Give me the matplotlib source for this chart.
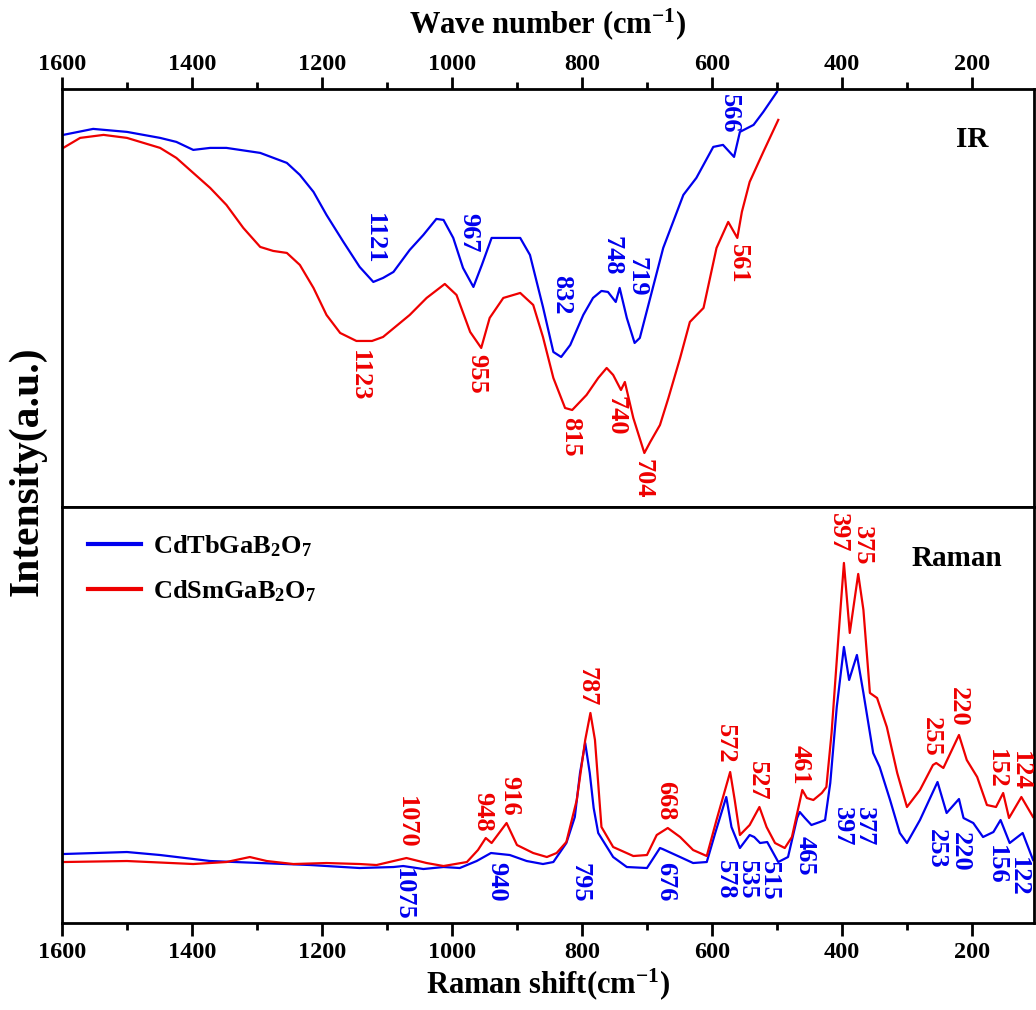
import numpy as np
import matplotlib
matplotlib.use("Agg")
import matplotlib.pyplot as plt

plt.rcParams['font.family'] = ['Liberation Serif', 'DejaVu Serif']
plt.rcParams['font.weight'] = 'bold'
plt.rcParams['mathtext.fontset'] = 'custom'
plt.rcParams['mathtext.rm'] = 'Liberation Serif:bold'
plt.rcParams['mathtext.bf'] = 'Liberation Serif:bold'
plt.rcParams['mathtext.default'] = 'bf'

# IR spectra (wave number, transmittance a.u.)
ir_tb_x = [1598, 1552, 1500, 1449, 1424, 1398, 1372, 1347, 1295, 1254, 1234, 1213, 1193, 1167,
           1142, 1121, 1106, 1090, 1065, 1044, 1024, 1013, 998, 983, 967, 954, 939, 921, 895,
           880, 860, 844, 832, 818, 798, 783, 770, 760, 748, 742, 731, 719, 711, 695, 675, 644,
           624, 598, 583, 566, 557, 536, 521, 500]
ir_tb_y = [372, 378, 375, 369, 365, 357, 359, 359, 354, 344, 332, 315, 292, 265,
           240, 225, 229, 235, 257, 272, 288, 287, 269, 239, 220, 242, 269, 269, 269,
           252, 200, 155, 150, 162, 192, 209, 216, 215, 205, 219, 189, 164, 169, 209, 259, 312,
           329, 360, 362, 350, 375, 382, 395, 415]

ir_sm_x = [1598, 1572, 1536, 1500, 1449, 1424, 1398, 1372, 1347, 1321, 1295, 1275, 1254, 1234,
           1213, 1193, 1172, 1147, 1123, 1106, 1065, 1039, 1011, 993, 972, 955, 942, 921, 895,
           875, 860, 844, 826, 815, 793, 775, 762, 752, 740, 734, 721, 704, 695, 680, 667, 649,
           634, 613, 593, 575, 561, 554, 542, 521, 498]
ir_sm_y = [359, 369, 372, 369, 359, 349, 334, 319, 302, 279, 260, 256, 254, 242,
           219, 192, 174, 166, 166, 170, 192, 209, 223, 212, 175, 159, 189, 209, 214,
           202, 170, 129, 99, 97, 112, 129, 139, 132, 117, 125, 89, 54, 65, 82, 109, 149,
           185, 199, 259, 285, 269, 295, 325, 355, 387]

# Raman spectra (shift, intensity a.u.)
ra_tb_x = [1598, 1500, 1449, 1372, 1295, 1218, 1142, 1090, 1075, 1044, 1013, 988, 962, 940,
           911, 885, 860, 844, 824, 811, 803, 795, 788, 782, 775, 752, 731, 700, 680, 676,
           649, 629, 608, 595, 578, 570, 557, 542, 535, 526, 515, 498, 483, 469, 465, 457,
           447, 434, 426, 418, 408, 397, 389, 377, 367, 352, 342, 326, 311, 300, 280, 253,
           239, 220, 213, 198, 183, 167, 156, 142, 122, 106]
ra_tb_y = [69, 71, 68, 62, 60, 58, 55, 56, 57, 54, 56, 55, 62, 70,
           68, 62, 59, 61, 80, 106, 150, 180, 150, 115, 90, 66, 56, 55, 75, 74,
           66, 60, 61, 90, 126, 96, 75, 88, 86, 80, 81, 61, 66, 105, 111, 105,
           98, 101, 103, 140, 216, 276, 243, 268, 230, 170, 156, 123, 90, 80, 103, 141,
           110, 124, 105, 100, 86, 91, 103, 80, 90, 63]

ra_sm_x = [1598, 1500, 1398, 1347, 1311, 1285, 1244, 1193, 1142, 1116, 1070, 1039, 1013, 977,
           960, 948, 939, 916, 900, 875, 854, 839, 824, 808, 795, 787, 780, 770, 752, 721,
           700, 685, 668, 649, 629, 608, 593, 572, 565, 557, 542, 527, 516, 503, 488, 477,
           461, 454, 444, 431, 424, 416, 405, 397, 388, 375, 367, 357, 346, 331, 315, 300,
           280, 260, 255, 244, 220, 208, 192, 177, 163, 152, 143, 124, 106]
ra_sm_y = [61, 62, 59, 61, 66, 62, 59, 60, 59, 58, 65, 60, 57, 61,
           73, 85, 80, 100, 78, 70, 66, 70, 81, 123, 183, 210, 183, 96, 76, 67,
           68, 88, 95, 86, 73, 67, 103, 151, 123, 88, 98, 116, 96, 80, 75, 86,
           133, 125, 123, 130, 136, 190, 290, 360, 290, 349, 313, 230, 225, 196, 150, 116,
           133, 158, 160, 155, 188, 163, 146, 118, 116, 130, 105, 126, 106]

# peak labels: text, x, y
ir_tb_lab = ['1121', '967', '832', '748', '719', '566']
ir_tb_lx = [1120, 974, 832, 754, 715, 574]
ir_tb_ly = [268, 274, 212, 251, 230, 393]
ir_sm_lab = ['1123', '955', '815', '740', '704', '561']
ir_sm_lx = [1143, 962, 817, 748, 706, 560]
ir_sm_ly = [131, 133, 70, 91, 28, 243]

ra_sm_lab = ['1070', '948', '916', '787', '668', '572', '527', '461', '397', '375', '255', '220', '152', '124']
ra_sm_lx = [1070, 952, 911, 792, 672, 580, 531, 465, 405, 369, 262, 221, 162, 126]
ra_sm_ly = [101, 111, 127, 236, 122, 179, 142, 158, 390, 377, 186, 216, 154, 152]
ra_tb_lab = ['1075', '940', '795', '676', '578', '535', '515', '465', '397', '377', '253', '220', '156', '122']
ra_tb_lx = [1075, 931, 803, 672, 580, 546, 512, 457, 400, 366, 254, 218, 163, 129]
ra_tb_ly = [29, 41, 40, 41, 43, 43, 42, 67, 96, 96, 74, 71, 58, 46]

c_tb = '#0000ee'
c_sm = '#ee0000'

fig = plt.figure(figsize=(10.36, 10.10), dpi=100)
ax1 = fig.add_axes([0.0598, 0.498, 0.938, 0.414])
ax2 = fig.add_axes([0.0598, 0.0861, 0.938, 0.412])

ax1.plot(ir_tb_x, ir_tb_y, color=c_tb, lw=1.6)
ax1.plot(ir_sm_x, ir_sm_y, color=c_sm, lw=1.6)
ax2.plot(ra_tb_x, ra_tb_y, color=c_tb, lw=1.6, label=r'CdTbGaB$_2$O$_7$')
ax2.plot(ra_sm_x, ra_sm_y, color=c_sm, lw=1.6, label=r'CdSmGaB$_2$O$_7$')

fs_lab = 19
for t, x, y in zip(ir_tb_lab, ir_tb_lx, ir_tb_ly):
    ax1.text(x, y, t, rotation=270, ha='center', va='center', color=c_tb, fontsize=fs_lab, fontweight='bold')
for t, x, y in zip(ir_sm_lab, ir_sm_lx, ir_sm_ly):
    ax1.text(x, y, t, rotation=270, ha='center', va='center', color=c_sm, fontsize=fs_lab, fontweight='bold')
for t, x, y in zip(ra_tb_lab, ra_tb_lx, ra_tb_ly):
    ax2.text(x, y, t, rotation=270, ha='center', va='center', color=c_tb, fontsize=fs_lab, fontweight='bold')
for t, x, y in zip(ra_sm_lab, ra_sm_lx, ra_sm_ly):
    ax2.text(x, y, t, rotation=270, ha='center', va='center', color=c_sm, fontsize=fs_lab, fontweight='bold')

ax1.text(200, 367, 'IR', ha='center', va='center', fontsize=21, fontweight='bold')
ax2.text(223, 364, 'Raman', ha='center', va='center', fontsize=21, fontweight='bold')

for ax in (ax1, ax2):
    ax.set_xlim(1600, 105)
    ax.set_xticks([1600, 1400, 1200, 1000, 800, 600, 400, 200])
    ax.set_xticks(np.arange(1500, 100, -200), minor=True)
    ax.set_yticks([])
    for s in ax.spines.values():
        s.set_linewidth(2)
    ax.tick_params(axis='x', which='major', length=9, width=2, labelsize=17.5, direction='out')
    ax.tick_params(axis='x', which='minor', length=5, width=2, direction='out')

ax1.set_ylim(0, 418)
ax2.set_ylim(0, 416)

ax1.tick_params(axis='x', which='both', top=True, bottom=False, labeltop=True, labelbottom=False, pad=1)
ax2.tick_params(axis='x', which='major', pad=5)
ax1.xaxis.set_label_position('top')
ax1.set_xlabel(r'Wave number (cm$^{-1}$)', fontsize=22, fontweight='bold', labelpad=15)

ax2.set_xlabel(r'Raman shift(cm$^{-1}$)', fontsize=22, fontweight='bold', labelpad=2)

leg = ax2.legend(loc='upper left', frameon=False, fontsize=19, handlelength=2.0,
                 borderaxespad=0.6, labelspacing=0.75, handletextpad=0.45)
for h in leg.legend_handles:
    h.set_linewidth(3)

fig.text(0.026, 0.533, 'Intensity(a.u.)', rotation=90, ha='center', va='center',
         fontsize=30, fontweight='bold')

fig.savefig('out.png', dpi=100)
